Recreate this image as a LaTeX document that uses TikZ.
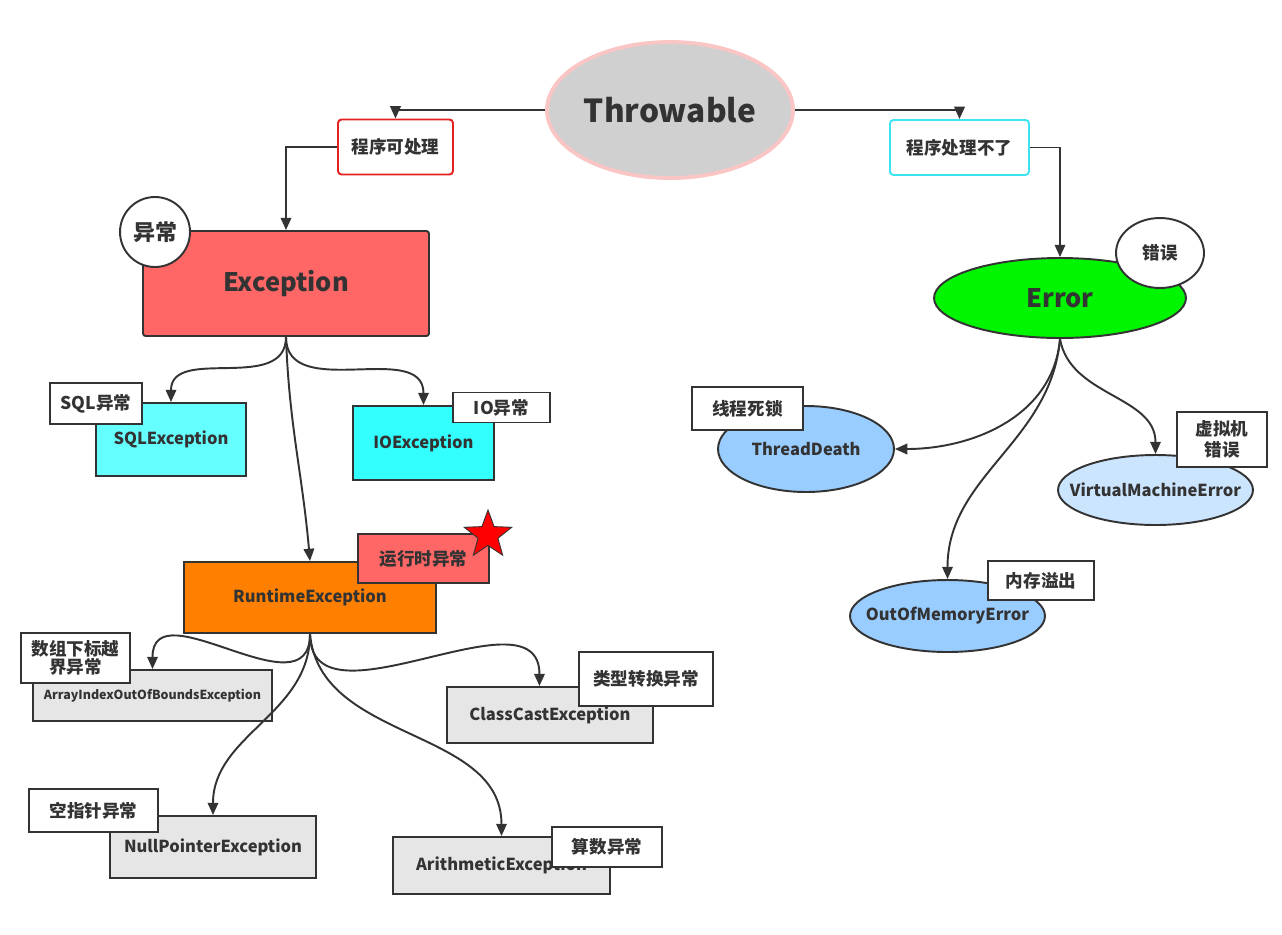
\documentclass[tikz,border=0pt]{standalone}
\usepackage{fontspec}
\setmainfont{Noto Sans CJK SC}
\usetikzlibrary{shapes.geometric, arrows.meta, positioning}

\definecolor{inkgray}{HTML}{333333}
\definecolor{rootgray}{HTML}{D0D0D0}
\definecolor{rootpink}{HTML}{F9C5C5}
\definecolor{okred}{HTML}{E52020}
\definecolor{nocyan}{HTML}{3DE3F0}
\definecolor{excred}{HTML}{FF6666}
\definecolor{errgreen}{HTML}{00F500}
\definecolor{sqlcyan}{HTML}{66FFFF}
\definecolor{iocyan}{HTML}{33FFFF}
\definecolor{rtorange}{HTML}{FF8000}
\definecolor{subgray}{HTML}{E6E6E6}
\definecolor{errblue}{HTML}{99CCFF}
\definecolor{vmblue}{HTML}{CCE5FF}

\begin{document}
\begin{tikzpicture}[
				x=0.02cm, y=-0.02cm,
				every node/.style={font=\bfseries\fontsize{10}{12}\selectfont, text=inkgray, inner sep=0pt, align=center},
				root/.style={ellipse, draw=rootpink, line width=2.2pt, fill=rootgray, inner sep=-1.2cm, minimum width=4.92cm, minimum height=2.72cm, font=\bfseries\fontsize{18}{22}\selectfont},
				branch/.style={rectangle, rounded corners=2pt, line width=1.1pt, fill=white, minimum width=#1, minimum height=1.1cm},
				main/.style={rectangle, rounded corners=1.5pt, draw=inkgray, line width=1.1pt, font=\bfseries\fontsize{14.5}{17}\selectfont},
				mainoval/.style={ellipse, draw=inkgray, line width=1.1pt, inner sep=-1cm, font=\bfseries\fontsize{14.5}{17}\selectfont},
				bubble/.style={ellipse, draw=inkgray, line width=1.1pt, fill=white},
				sub/.style={rectangle, draw=inkgray, line width=1.1pt, fill=subgray, font=\bfseries\fontsize{9.4}{11}\selectfont},
				suboval/.style={ellipse, draw=inkgray, line width=1.1pt, fill=errblue, inner sep=-1cm, font=\bfseries\fontsize{9.4}{11}\selectfont},
				tagbox/.style={rectangle, draw=inkgray, line width=1.1pt, fill=white},
				arrow/.style={draw=inkgray, line width=1.1pt, -{Triangle[length=7pt, width=6pt]}}
				]
				\useasboundingbox (0,0) rectangle (1282,934);
				% Nodes
				\node (throwable) [root] at (670,110) {Throwable};
				\node (canhandle) [branch=2.3cm, draw=okred] at (395.5,147) {程序可处理};
				\node (cannothandle) [branch=2.78cm, draw=nocyan] at (959.5,147.5) {程序处理不了};
				
				\node (exception) [main, fill=excred, minimum width=5.72cm, minimum height=2.1cm] at (286,283.5) {Exception};
				\node (exctag) [bubble, minimum size=1.4cm, font=\bfseries\fontsize{12.5}{14}\selectfont] at (155,232) {异常};
				\node (error) [mainoval, fill=errgreen, minimum width=5.04cm, minimum height=1.6cm] at (1060,298) {Error};
				\node (errtag) [bubble, minimum width=1.76cm, minimum height=1.4cm] at (1160,253) {错误};
				
				\node (sqlexc) [sub, fill=sqlcyan, minimum width=3cm, minimum height=1.46cm] at (171,439.5) {SQLException};
				\node (sqltag) [tagbox, minimum width=1.84cm, minimum height=0.82cm] at (96,403.5) {SQL异常};
				\node (ioexc) [sub, fill=iocyan, minimum width=2.82cm, minimum height=1.48cm] at (423.5,443) {IOException};
				\node (iotag) [tagbox, minimum width=1.94cm, minimum height=0.6cm] at (501.5,407.5) {IO异常};
				
				\node (runtime) [sub, fill=rtorange, minimum width=5.04cm, minimum height=1.42cm] at (310,597.5) {RuntimeException};
				\node (rttag) [tagbox, fill=excred, minimum width=2.62cm, minimum height=0.98cm] at (423.5,558.5) {运行时异常};
				\node (rtstar) [star, star points=5, star point ratio=2.4, fill=red, draw=inkgray, line width=0.5pt, minimum size=1cm] at (488,535) {};
				
				\node (arrayidx) [sub, minimum width=4.78cm, minimum height=1.02cm, font=\bfseries\fontsize{7.1}{9}\selectfont] at (152.5,695.5) {ArrayIndexOutOfBoundsException};
				\node (arraytag) [tagbox, minimum width=2.18cm, minimum height=1cm] at (75.5,658) {数组下标越\\[-2pt]界异常};
				\node (classcast) [sub, minimum width=4.12cm, minimum height=1.12cm] at (550,715) {ClassCastException};
				\node (casttag) [tagbox, minimum width=2.68cm, minimum height=1.08cm] at (646,679) {类型转换异常};
				\node (nullptr) [sub, minimum width=4.12cm, minimum height=1.24cm] at (213,847) {NullPointerException};
				\node (nulltag) [tagbox, minimum width=2.58cm, minimum height=0.86cm] at (93.5,810.5) {空指针异常};
				\node (arith) [sub, minimum width=4.34cm, minimum height=1.14cm] at (501.5,865.5) {ArithmeticException};
				\node (arithtag) [tagbox, minimum width=2.2cm, minimum height=0.8cm] at (607,847) {算数异常};
				
				\node (death) [suboval, minimum width=3.52cm, minimum height=1.72cm] at (806,449) {ThreadDeath};
				\node (deathtag) [tagbox, minimum width=2.22cm, minimum height=0.86cm] at (747.5,408.5) {线程死锁};
				\node (vmerr) [suboval, fill=vmblue, minimum width=3.9cm, minimum height=1.4cm] at (1155.5,490) {VirtualMachineError};
				\node (vmtag) [tagbox, minimum width=1.8cm, minimum height=1.1cm] at (1222,439.5) {虚拟机\\错误};
				\node (oomerr) [suboval, minimum width=3.9cm, minimum height=1.44cm] at (947.5,616) {OutOfMemoryError};
				\node (oomtag) [tagbox, minimum width=2.12cm, minimum height=0.78cm] at (1041,580.5) {内存溢出};
				
				% Arrows
				\draw [arrow] (throwable.west) -| (canhandle.north);
				\draw [arrow] (canhandle.west) -| (exception.north);
				\draw [arrow] (throwable.east) -| (cannothandle.north);
				\draw [arrow] (cannothandle.east) -| (error.north);
				
				\draw [arrow] (exception.south) to[out=-90, in=90, looseness=1.1] (sqlexc.north);
				\draw [arrow] (exception.south) to[out=-90, in=90, looseness=1.1] (ioexc.north);
				\draw [arrow] (exception.south) to[out=-88, in=95] (runtime.north);
				
				\draw [arrow] (runtime.south) to[out=-90, in=90, looseness=1.3] (arrayidx.north);
				\draw [arrow] (runtime.south) to[out=-90, in=90, looseness=1.1] (classcast.110);
				\draw [arrow] (runtime.south) to[out=-90, in=90] (nullptr.north);
				\draw [arrow] (runtime.south) to[out=-85, in=90] (arith.north);
				
				\draw [arrow] (error.south) to[out=-95, in=0] (death.east);
				\draw [arrow] (error.south) to[out=-80, in=90] (vmerr.north);
				\draw [arrow] (error.south) to[out=-95, in=90] (oomerr.north);
			\end{tikzpicture}
\end{document}
